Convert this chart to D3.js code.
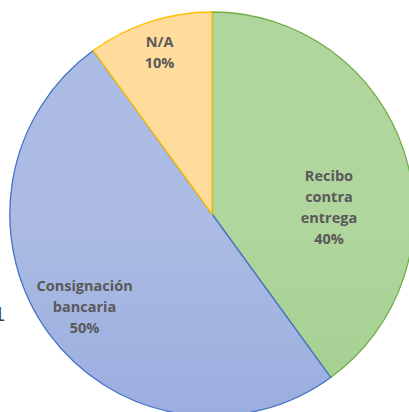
<!DOCTYPE html>
<html><head><meta charset="utf-8">
<script src="https://cdn.jsdelivr.net/npm/d3@7"></script>
<style>body{margin:0;background:#fff;overflow:hidden}svg{display:block}</style>
</head><body>
<svg id="c" width="409" height="412"></svg>
<script>
const categories = ["Recibo contra entrega", "Consignación bancaria", "N/A"];
const labelLines = [["Recibo","contra","entrega"],["Consignación","bancaria"],["N/A"]];
const values = [40, 50, 10];
const pctLabels = ["40%", "50%", "10%"];
const fillTop = ["#b0d69e", "#abbbe3", "#ffdb9c"];
const fillBot = ["#96c87f", "#889fda", "#ffd083"];
const strokes = ["#70ad47", "#4472c4", "#ffc000"];

const svg = d3.select("#c");
const cx = 212, cy = 214, r = 202;
const defs = svg.append("defs");
categories.forEach((c,i)=>{
  const g = defs.append("linearGradient").attr("id","g"+i)
    .attr("gradientUnits","userSpaceOnUse")
    .attr("x1",0).attr("y1",cy-r).attr("x2",0).attr("y2",cy+r);
  g.append("stop").attr("offset","0").attr("stop-color",fillTop[i]);
  g.append("stop").attr("offset","1").attr("stop-color",fillBot[i]);
});
const pie = d3.pie().sort(null).value(d=>d);
const arcs = pie(values);
const arc = d3.arc().innerRadius(0).outerRadius(r);
const g = svg.append("g").attr("transform",`translate(${cx},${cy})`);
g.selectAll("path").data(arcs).join("path")
  .attr("d",arc).attr("fill",(d,i)=>`url(#g${i})`)
  .attr("stroke",(d,i)=>strokes[i]).attr("stroke-width",1.3);

// label placement: radius factor and angular shift (degrees) per slice
const labelR = [0.58, 0.78, 0.84];
const labelShift = [14.6, 0, 0];
const lh = 21;
g.selectAll("text.lbl").data(arcs).join("text")
  .attr("class","lbl")
  .attr("font-family","'Liberation Sans Narrow', 'Open Sans', sans-serif")
  .attr("font-weight","bold").attr("font-size",14.5).attr("fill","#595959")
  .attr("text-anchor","middle")
  .each(function(d,i){
    const a = (d.startAngle + d.endAngle)/2 + labelShift[i]*Math.PI/180;
    const x = Math.sin(a)*r*labelR[i], y = -Math.cos(a)*r*labelR[i];
    const lines = labelLines[i].concat([pctLabels[i]]);
    const y0 = y - (lines.length-1)*lh/2;
    const t = d3.select(this);
    lines.forEach((s,k)=>{
      t.append("tspan").attr("x",x).attr("y",y0+k*lh).attr("dy","0.35em").text(s);
    });
  });
svg.append("text").attr("x",-6).attr("y",321).attr("font-family","'Liberation Sans', sans-serif")
  .attr("font-size",20).attr("fill","#404040").text("1");
</script>
</body></html>
